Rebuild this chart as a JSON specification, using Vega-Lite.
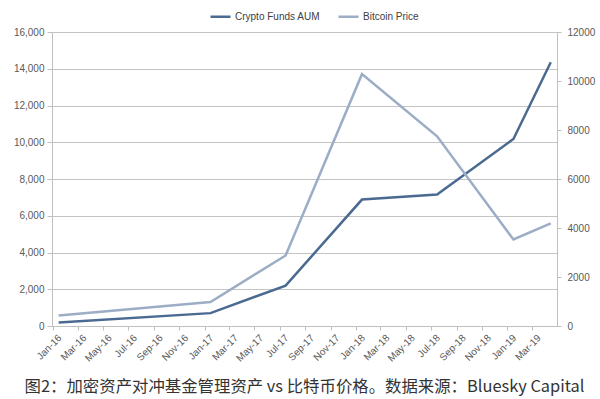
{
  "$schema": "https://vega.github.io/schema/vega-lite/v6.json",
  "width": 505,
  "height": 294,
  "autosize": {"type": "none"},
  "padding": {"left": 52, "top": 32, "right": 43, "bottom": 73},
  "background": "white",
  "config": {"view": {"stroke": null}, "font": "Liberation Sans"},
  "title": {
    "text": "图2：加密资产对冲基金管理资产 vs 比特币价格。数据来源：Bluesky Capital",
    "orient": "bottom",
    "anchor": "middle",
    "font": "Noto Sans CJK SC",
    "fontSize": 16.4,
    "fontWeight": "normal",
    "color": "#333333",
    "offset": 16
  },
  "data": {
    "values": [
      {"date": "2016-01-01", "aum": 190, "btc": 430},
      {"date": "2017-01-01", "aum": 700, "btc": 980},
      {"date": "2017-07-01", "aum": 2200, "btc": 2880},
      {"date": "2018-01-01", "aum": 6880, "btc": 10280},
      {"date": "2018-07-01", "aum": 7150, "btc": 7740},
      {"date": "2019-01-01", "aum": 10180, "btc": 3530},
      {"date": "2019-04-01", "aum": 14350, "btc": 4190}
    ]
  },
  "encoding": {
    "x": {
      "field": "date",
      "type": "temporal",
      "scale": {
        "type": "utc",
        "domain": [
          {"year": 2015, "month": 12, "date": 16, "utc": true},
          {"year": 2019, "month": 4, "date": 16, "utc": true}
        ]
      },
      "axis": {
        "title": null,
        "format": "%b-%y",
        "tickCount": {"interval": "month", "step": 2},
        "labelAngle": -45,
        "labelAlign": "right",
        "labelBaseline": "middle",
        "labelFontSize": 10,
        "labelColor": "#595959",
        "labelPadding": 6,
        "labelOverlap": false,
        "labelFlush": false,
        "domainColor": "#bfbfbf",
        "tickColor": "#bfbfbf",
        "tickSize": 4,
        "tickOffset": -6,
        "labelOffset": 7,
        "grid": false
      }
    }
  },
  "layer": [
    {
      "mark": {"type": "line", "strokeWidth": 2.5},
      "encoding": {
        "y": {
          "field": "aum",
          "type": "quantitative",
          "scale": {"domain": [0, 16000], "nice": false},
          "axis": {
            "title": null,
            "orient": "left",
            "values": [0, 2000, 4000, 6000, 8000, 10000, 12000, 14000, 16000],
            "format": ",d",
            "labelFontSize": 10,
            "labelColor": "#595959",
            "labelPadding": 3,
            "domainColor": "#bfbfbf",
            "tickColor": "#bfbfbf",
            "tickSize": 5,
            "grid": true,
            "gridColor": "#c4c4c4",
            "gridWidth": 1
          }
        },
        "color": {
          "datum": "Crypto Funds AUM",
          "type": "nominal",
          "scale": {
            "domain": ["Crypto Funds AUM", "Bitcoin Price"],
            "range": ["#4b6a91", "#9cadc6"]
          },
          "legend": {
            "title": null,
            "orient": "none",
            "legendX": 157,
            "legendY": -27,
            "direction": "horizontal",
            "symbolType": "stroke",
            "symbolSize": 400,
            "symbolStrokeWidth": 2.5,
            "labelFontSize": 10,
            "labelColor": "#404040",
            "labelOffset": 3,
            "columnPadding": 12
          }
        }
      }
    },
    {
      "mark": {"type": "line", "strokeWidth": 2.5},
      "encoding": {
        "y": {
          "field": "btc",
          "type": "quantitative",
          "scale": {"domain": [0, 12000], "nice": false},
          "axis": {
            "title": null,
            "orient": "right",
            "values": [0, 2000, 4000, 6000, 8000, 10000, 12000],
            "format": "d",
            "labelFontSize": 10,
            "labelColor": "#595959",
            "labelPadding": 6,
            "domainColor": "#bfbfbf",
            "tickColor": "#bfbfbf",
            "tickSize": 4,
            "grid": false
          }
        },
        "color": {"datum": "Bitcoin Price", "type": "nominal"}
      }
    }
  ],
  "resolve": {"scale": {"y": "independent"}}
}
